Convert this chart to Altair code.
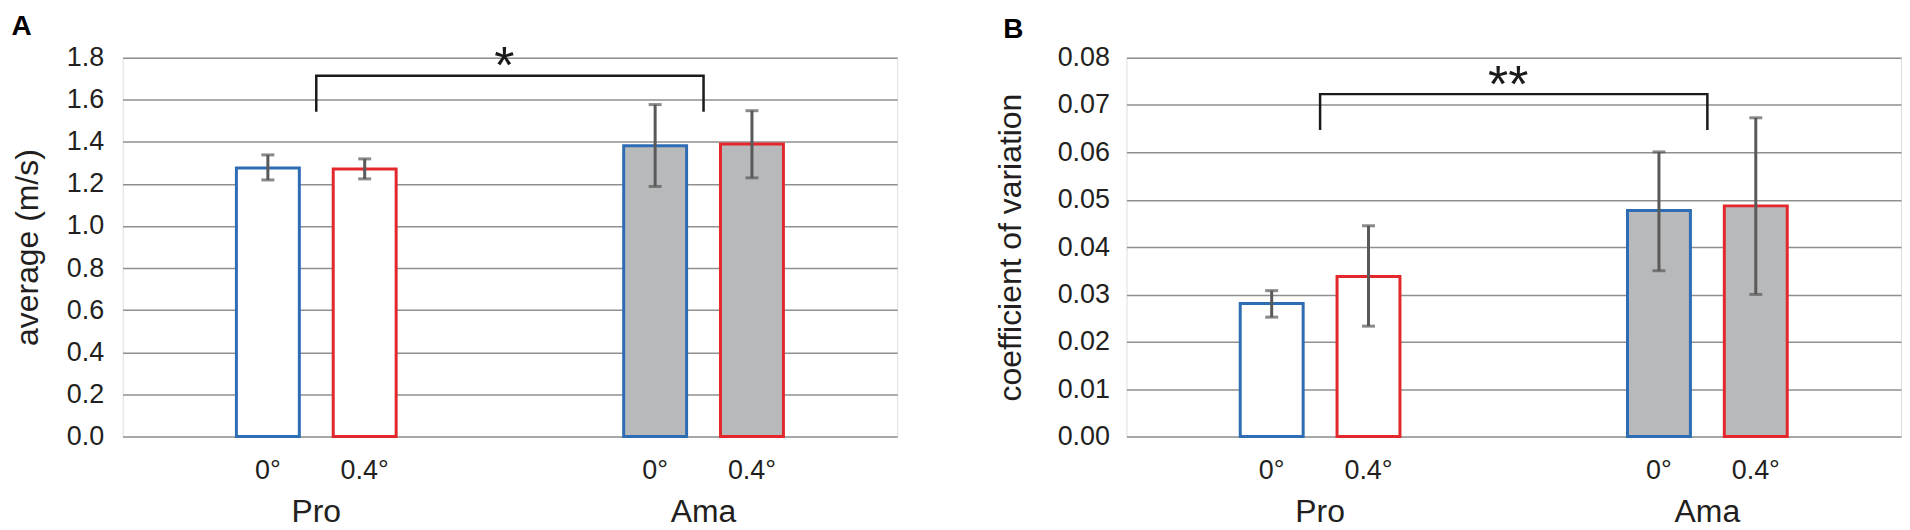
import altair as alt
import pandas as pd

# ---------------- data ----------------
groups = ["Pro", "Pro", "Ama", "Ama"]
angles = ["0°", "0.4°", "0°", "0.4°"]

avg_mean = [1.276, 1.271, 1.381, 1.390]
avg_lo = [1.219, 1.224, 1.188, 1.229]
avg_hi = [1.338, 1.319, 1.577, 1.548]

cv_mean = [0.0281, 0.0338, 0.0477, 0.0487]
cv_lo = [0.0252, 0.0233, 0.0350, 0.0300]
cv_hi = [0.0308, 0.0445, 0.0601, 0.0673]

avg_ticks = [0.0, 0.2, 0.4, 0.6, 0.8, 1.0, 1.2, 1.4, 1.6, 1.8]
cv_ticks = [0.00, 0.01, 0.02, 0.03, 0.04, 0.05, 0.06, 0.07, 0.08]

bracket_groups = ["Pro", "Pro", "Ama", "Ama"]
bracket_order = [0, 1, 2, 3]
avg_bracket_y = [1.543, 1.714, 1.714, 1.543]
cv_bracket_y = [0.0647, 0.0723, 0.0723, 0.0647]

avg_sig, avg_sig_y = "*", 1.80
cv_sig, cv_sig_y = "**", 0.0759

GROUP_ORDER = ["Pro", "Ama"]
ANGLE_ORDER = ["0°", "0.4°"]

W, H = 777, 380
FONT = "Liberation Sans"
TXT = "#231f20"
ERR = "#595959"


def panel(mean, lo, hi, ticks, ymax, fmt, ytitle, bracket_y, sig, sig_y,
          letter, letter_dx, label_pad, title_pad):
    df = pd.DataFrame({"group": groups, "angle": angles,
                       "mean": mean, "lo": lo, "hi": hi})
    bdf = pd.DataFrame({"group": bracket_groups, "y": bracket_y,
                        "order": bracket_order})
    sdf = pd.DataFrame({"sig": [sig], "y": [sig_y]})

    x = alt.X("group:N", sort=GROUP_ORDER,
              scale=alt.Scale(domain=GROUP_ORDER, paddingInner=0.5,
                              paddingOuter=0.25),
              axis=alt.Axis(title=None, labelAngle=0, labelFontSize=32,
                            labelPadding=60, ticks=False, domain=False,
                            grid=False, labelColor=TXT, labelFont=FONT))
    xo = alt.XOffset("angle:N", sort=ANGLE_ORDER,
                     scale=alt.Scale(domain=ANGLE_ORDER, paddingInner=0.35,
                                     paddingOuter=0.175))
    ys = alt.Scale(domain=[0, ymax], nice=False, zero=True)
    yaxis = alt.Axis(values=ticks, format=fmt, grid=True, ticks=False,
                     domain=False, labelFontSize=27, labelPadding=label_pad,
                     titlePadding=title_pad, titleFontSize=32,
                     titleFontWeight="normal", labelColor=TXT,
                     titleColor=TXT, labelFont=FONT, titleFont=FONT,
                     gridColor="#8f8f8f", gridWidth=1.5)

    base = alt.Chart(df)
    bars = base.mark_bar(strokeWidth=3).encode(
        x=x, xOffset=xo,
        y=alt.Y("mean:Q", scale=ys, axis=yaxis, title=ytitle),
        fill=alt.Fill("group:N", scale=alt.Scale(domain=GROUP_ORDER,
                      range=["#ffffff", "#b8b9bb"]), legend=None),
        stroke=alt.Stroke("angle:N", scale=alt.Scale(domain=ANGLE_ORDER,
                          range=["#2e6db4", "#e3282c"]), legend=None),
    )
    err = base.mark_rule(color=ERR, strokeWidth=3).encode(
        x=x, xOffset=xo,
        y=alt.Y("lo:Q", scale=ys, title=ytitle), y2="hi:Q")
    cap_lo = base.mark_tick(color=ERR, thickness=3, size=13,
                            orient="horizontal").encode(
        x=x, xOffset=xo, y=alt.Y("lo:Q", scale=ys, title=ytitle))
    cap_hi = base.mark_tick(color=ERR, thickness=3, size=13,
                            orient="horizontal").encode(
        x=x, xOffset=xo, y=alt.Y("hi:Q", scale=ys, title=ytitle))
    alabels = base.mark_text(fontSize=27, font=FONT, color=TXT,
                             baseline="alphabetic").encode(
        x=x, xOffset=xo, y=alt.value(H + 43), text="angle:N")
    bracket = alt.Chart(bdf).mark_line(color="#1a1a1a", strokeWidth=2.5,
                                       strokeJoin="miter").encode(
        x=x, y=alt.Y("y:Q", scale=ys, title=ytitle), order="order:O")
    star = alt.Chart(sdf).mark_text(fontSize=52, font=FONT, color="#1a1a1a",
                                    baseline="alphabetic", dy=25).encode(
        x=alt.value(383), y=alt.Y("y:Q", scale=ys, title=ytitle),
        text="sig:N")

    return alt.layer(bars, err, cap_lo, cap_hi, alabels, bracket, star).properties(
        width=W, height=H,
        title=alt.TitleParams(letter, anchor="start", frame="bounds",
                              fontSize=28, fontWeight="bold", font=FONT,
                              color="#000000", dx=letter_dx, offset=0))


pa = panel(avg_mean, avg_lo, avg_hi, avg_ticks, 1.8, ".1f", "average (m/s)",
           avg_bracket_y, avg_sig, avg_sig_y, "A", 0, 19, 22)
pb = panel(cv_mean, cv_lo, cv_hi, cv_ticks, 0.08, ".2f",
           "coefficient of variation", cv_bracket_y, cv_sig, cv_sig_y,
           "B", 9, 17, 30)

chart = alt.hconcat(pa, pb, spacing=95).properties(
    padding={"left": 2, "top": 3, "right": 0, "bottom": 0}
).configure_view(stroke="#9a9a9a", strokeWidth=1.5).configure(
    background="white")

chart.save("out.html", embed_options={"renderer": "svg", "actions": False})
